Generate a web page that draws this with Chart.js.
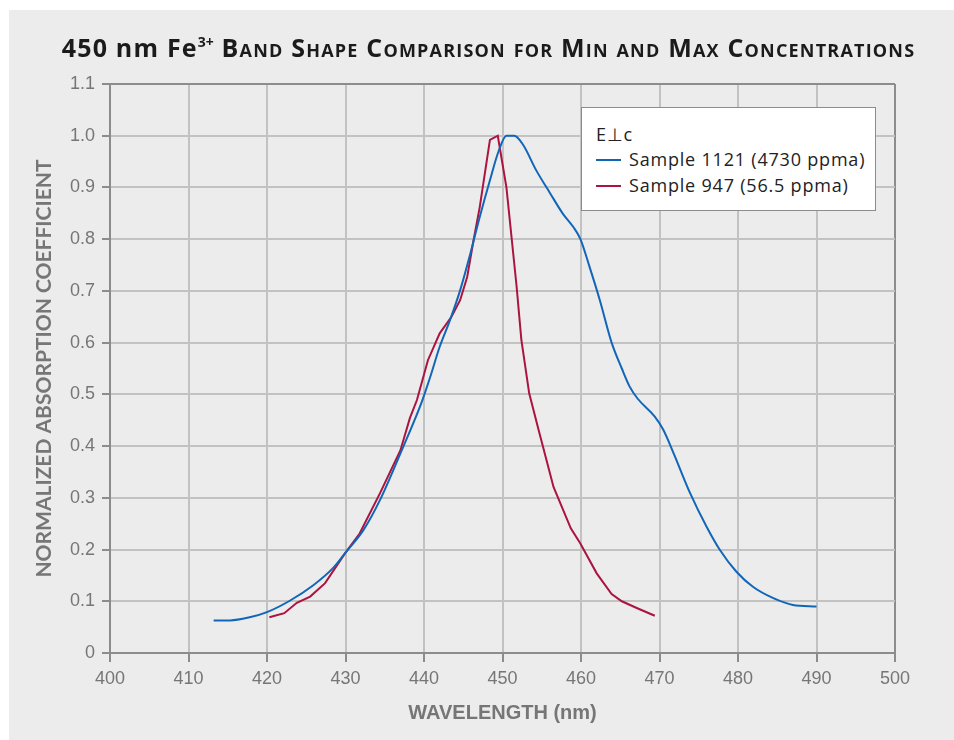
<!DOCTYPE html>
<html>
<head>
<meta charset="utf-8">
<script src="https://cdn.jsdelivr.net/npm/chart.js@4.4.1/dist/chart.umd.min.js"></script>
<style>
  body { margin: 0; background: #fff; }
  #wrap { position: relative; width: 954px; height: 740px; overflow: hidden; }
  #panel { position: absolute; left: 9px; top: 10px; right: 0; bottom: 0; background: #ececec; }
  #plot { position: absolute; left: 0; top: 0; }
  #title {
    position: absolute; left: 0; top: 31px; width: 977px; text-align: center;
    font: bold 25px "Open Sans"; color: #1b1b1b; white-space: nowrap; line-height: 32px;
    letter-spacing: 1.2px;
  }
  #title .sc { font-variant: small-caps; }
  #title sup { font-size: 14px; vertical-align: 10px; line-height: 0; letter-spacing: 0; }
  #legend {
    position: absolute; left: 581px; top: 107px; width: 293px; height: 102px;
    background: #fff; border: 1px solid #8c8c8c; font: 18px "Open Sans"; color: #222;
    letter-spacing: 0.8px;
  }
  #legend .head { position: absolute; left: 14px; top: 14px; }
  #legend .row { position: absolute; left: 14px; white-space: nowrap; }
  #legend .swatch { display: inline-block; width: 25px; height: 2px; vertical-align: middle; margin-right: 8px; position: relative; top: -1px; }
</style>
</head>
<body>
<div id="wrap">
  <div id="panel"></div>
  <canvas id="plot" width="954" height="740"></canvas>
  <div id="title">450 nm Fe<sup>3+</sup> <span class="sc">Band Shape Comparison for Min and Max Concentrations</span></div>
  <div id="legend"><div class="head">E⊥c</div></div>
</div>
<script>
// 波長 (nm) と規格化吸収係数
const blueX = [413.2, 415.3, 417.8, 420.0, 422.9, 425.9, 428.4, 430.0, 432.3, 434.4, 437.0, 438.9, 439.8,
  440.8, 442.0, 443.3, 444.6, 445.9, 447.1, 448.4, 449.5, 450.5, 451.5, 452.6, 454.3, 456.1, 457.7, 459.0,
  459.9, 461.1, 462.4, 463.9, 465.2, 466.2, 467.2, 469.4, 470.5, 471.8, 473.9, 476.0, 477.7, 479.8, 481.9,
  484.5, 487.0, 490.0];
const blueY = [0.063, 0.063, 0.069, 0.079, 0.101, 0.131, 0.164, 0.194, 0.238, 0.296, 0.386, 0.454, 0.489,
  0.534, 0.592, 0.643, 0.701, 0.772, 0.843, 0.914, 0.970, 1.000, 1.000, 0.983, 0.933, 0.888, 0.849, 0.824,
  0.801, 0.746, 0.682, 0.600, 0.550, 0.515, 0.492, 0.457, 0.431, 0.386, 0.309, 0.244, 0.199, 0.157, 0.128,
  0.106, 0.093, 0.090];

const redX = [420.3, 422.2, 423.8, 425.5, 427.4, 430.0, 431.8, 434.4, 437.0, 438.2, 439.1, 440.5, 442.0,
  443.5, 444.6, 445.5, 446.3, 447.1, 448.4, 449.4, 450.5, 451.8, 452.4, 453.4, 454.6, 456.5, 458.7, 459.9,
  462.0, 463.9, 465.2, 467.1, 469.4];
const redY = [0.069, 0.077, 0.097, 0.109, 0.135, 0.194, 0.231, 0.309, 0.392, 0.454, 0.489, 0.566, 0.618,
  0.650, 0.682, 0.727, 0.797, 0.862, 0.992, 1.000, 0.900, 0.708, 0.606, 0.502, 0.431, 0.321, 0.241, 0.212,
  0.154, 0.114, 0.100, 0.087, 0.072];

const seriesLabels = ['Sample 1121 (4730 ppma)', 'Sample 947 (56.5 ppma)'];
const xTicks = { min: 400, max: 500, step: 10 };
const yTicks = { min: 0, max: 1.1, step: 0.1 };

const BLUE = '#1266b8';
const RED = '#ab1440';
const GRID = '#c2c2c2';
const FRAME = '#8c8c8c';
const LABEL = '#767676';

function toPoints(xs, ys) {
  return xs.map((x, i) => ({ x: x, y: ys[i] }));
}

const ctx = document.getElementById('plot').getContext('2d');
const chart = new Chart(ctx, {
  type: 'scatter',
  data: {
    datasets: [
      {
        label: seriesLabels[0],
        data: toPoints(blueX, blueY),
        borderColor: BLUE,
        borderWidth: 2,
        showLine: true,
        pointRadius: 0,
        cubicInterpolationMode: 'monotone'
      },
      {
        label: seriesLabels[1],
        data: toPoints(redX, redY),
        borderColor: RED,
        borderWidth: 2,
        showLine: true,
        pointRadius: 0,
        tension: 0
      }
    ]
  },
  options: {
    responsive: false,
    animation: false,
    layout: { padding: { left: 28, top: 84, right: 59, bottom: 11 } },
    plugins: {
      legend: { display: false },
      tooltip: { enabled: false }
    },
    scales: {
      x: {
        type: 'linear',
        min: xTicks.min,
        max: xTicks.max,
        ticks: {
          stepSize: xTicks.step,
          color: LABEL,
          padding: 6,
          font: { family: 'Liberation Sans', size: 18 }
        },
        grid: {
          color: (c) => (c.tick && c.tick.value === xTicks.max ? FRAME : GRID),
          lineWidth: 2,
          tickColor: FRAME,
          tickWidth: 2,
          tickLength: 9
        },
        border: { color: FRAME, width: 2 },
        title: {
          display: true,
          text: 'WAVELENGTH (nm)',
          color: LABEL,
          padding: 4,
          font: { family: 'Liberation Sans', size: 20, weight: 'bold' }
        },
        afterFit: (s) => { s.height = 729 - 653; }
      },
      y: {
        min: yTicks.min,
        max: yTicks.max,
        ticks: {
          stepSize: yTicks.step,
          color: LABEL,
          padding: 7,
          font: { family: 'Liberation Sans', size: 18 },
          callback: (v) => (v === 0 ? '0' : v.toFixed(1))
        },
        grid: {
          color: (c) => (c.tick && Math.abs(c.tick.value - yTicks.max) < 1e-6 ? FRAME : GRID),
          lineWidth: 2,
          tickColor: FRAME,
          tickWidth: 2,
          tickLength: 8
        },
        border: { color: FRAME, width: 2 },
        title: {
          display: true,
          text: 'NORMALIZED ABSORPTION COEFFICIENT',
          color: LABEL,
          padding: 4,
          font: { family: 'Lato', size: 21, weight: 'bold' }
        },
        afterFit: (s) => { s.width = 110 - 28; }
      }
    }
  }
});

// 凡例 (HTML)
const legend = document.getElementById('legend');
chart.data.datasets.forEach((ds, i) => {
  const row = document.createElement('div');
  row.className = 'row';
  row.style.top = (39 + i * 26) + 'px';
  row.innerHTML = `<span class="swatch" style="background:${ds.borderColor}"></span>${ds.label}`;
  legend.appendChild(row);
});
</script>
</body>
</html>
